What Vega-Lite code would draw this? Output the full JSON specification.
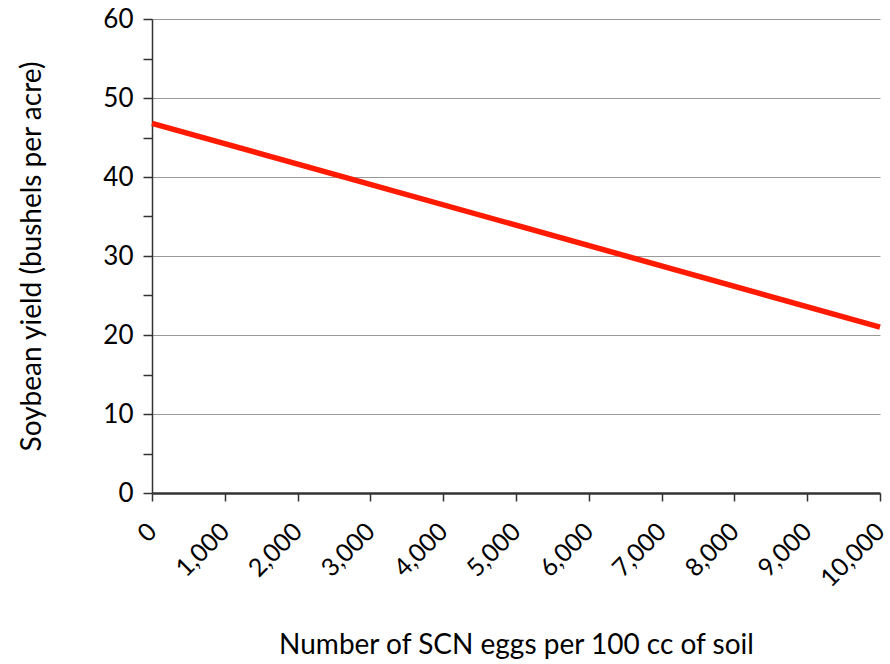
{
  "$schema": "https://vega.github.io/schema/vega-lite/v6.json",
  "autosize": "none",
  "width": 728,
  "height": 474,
  "padding": {"left": 152, "top": 19, "right": 10, "bottom": 171},
  "background": "white",
  "config": {"view": {"stroke": null}, "font": "Lato"},
  "data": {"values": [
    {"eggs": 0, "yield": 46.8},
    {"eggs": 10000, "yield": 21.0}
  ]},
  "mark": {"type": "line", "color": "#ff1a00", "strokeWidth": 5.5},
  "encoding": {
    "x": {
      "field": "eggs", "type": "quantitative",
      "scale": {"domain": [0, 10000], "nice": false},
      "axis": {
        "title": "Number of SCN eggs per 100 cc of soil",
        "values": [0,1000,2000,3000,4000,5000,6000,7000,8000,9000,10000],
        "format": ",.0f",
        "labelAngle": -45,
        "labelAlign": "right",
        "labelBaseline": "middle",
        "labelFontSize": 25,
        "labelColor": "#000",
        "labelFont": "Lato",
        "labelOverlap": false,
        "labelBound": false,
        "titleFont": "Lato",
        "titleFontSize": 28,
        "titleFontWeight": "normal",
        "titleColor": "#000",
        "titlePadding": 40,
        "grid": false,
        "domainColor": "#333",
        "domainWidth": 2.5,
        "tickColor": "#333",
        "tickWidth": 1.5,
        "tickSize": 8,
        "labelPadding": 26
      }
    },
    "y": {
      "field": "yield", "type": "quantitative",
      "scale": {"domain": [0, 60], "nice": false},
      "axis": {
        "title": "Soybean yield (bushels per acre)",
        "values": [0,5,10,15,20,25,30,35,40,45,50,55,60],
        "labelExpr": "datum.value % 10 === 0 ? datum.label : ''",
        "labelFontSize": 26,
        "labelColor": "#000",
        "labelFont": "Lato",
        "labelOverlap": false,
        "titleFont": "Lato",
        "titleFontSize": 28,
        "titleFontWeight": "normal",
        "titleColor": "#000",
        "titlePadding": 56,
        "grid": true,
        "gridColor": "#999",
        "gridWidth": 1,
        "gridOpacity": {"condition": {"test": "datum.value % 10 === 0 && datum.value > 0", "value": 1}, "value": 0},
        "domainColor": "#333",
        "domainWidth": 1.5,
        "tickColor": "#333",
        "tickWidth": 1.5,
        "tickSize": 9,
        "labelPadding": 10
      }
    }
  }
}
